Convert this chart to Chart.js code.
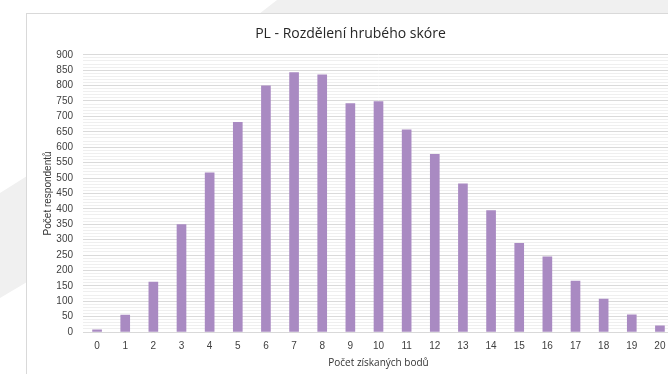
<!DOCTYPE html>
<html>
<head>
<meta charset="utf-8">
<script src="https://cdn.jsdelivr.net/npm/chart.js@4/dist/chart.umd.min.js"></script>
<style>
  html, body { margin: 0; padding: 0; background: #fff; overflow: hidden; width: 668px; height: 374px; }
  .shape { position: absolute; background: #f0f0f0; }
  #top { left: 0; top: 0; width: 668px; height: 14px; clip-path: polygon(277px 0, 668px 0, 668px 14px, 259px 14px); }
  #left { left: 0; top: 170px; width: 27px; height: 135px; clip-path: polygon(0 23px, 27px 6px, 27px 112px, 0 128px); }
  #panel { position: absolute; left: 26px; top: 13px; width: 700px; height: 400px; background: #fff; border: 1px solid #d9d9d9; }
  #chart { position: absolute; left: 0; top: 0; }
</style>
</head>
<body>
<div class="shape" id="top"></div>
<div class="shape" id="left"></div>
<div id="panel"><canvas id="chart" width="660" height="360"></canvas></div>
<script>
const scores = ["0", "1", "2", "3", "4", "5", "6", "7", "8", "9", "10",
  "11", "12", "13", "14", "15", "16", "17", "18", "19", "20"];
const respondents = [7, 55, 162, 349, 517, 681, 799, 842, 835, 742, 748,
  656, 577, 481, 394, 288, 244, 165, 107, 56, 20];
const yMax = 900;
const yLabelStep = 50;

const tickFont = { family: "'Liberation Sans', Arial, sans-serif", size: 10 };

let config = {
  type: "bar",
  data: {
    labels: scores,
    datasets: [
      {
        label: "Počet respondentů",
        data: respondents,
        backgroundColor: "#a98ac2",
        barThickness: 9,
      },
    ],
  },
  options: {
    responsive: false,
    animation: false,
    devicePixelRatio: 1,
    layout: { padding: { left: 0, right: 13, top: 0, bottom: 0 } },
    plugins: {
      legend: { display: false },
      tooltip: { enabled: false },
      title: {
        display: true,
        text: "PL - Rozdělení hrubého skóre",
        color: "#262626",
        font: { family: "'Open Sans', sans-serif", size: 14, weight: "normal" },
        padding: { top: 12, bottom: 12 },
      },
    },
    scales: {
      x: {
        grid: { display: false, drawTicks: false },
        border: { display: true, color: "#d9d9d9" },
        ticks: { color: "#404040", font: tickFont, padding: 8, maxRotation: 0 },
        title: {
          display: true,
          text: "Počet získaných bodů",
          color: "#333333",
          font: { family: "'Open Sans', sans-serif", size: 10 },
          padding: { top: 0, bottom: 5 },
        },
        afterFit: (scale) => { scale.height = 42; },
      },
      y: {
        min: 0,
        max: yMax,
        grid: {
          drawTicks: false,
          color: (ctx) => (ctx.tick && ctx.tick.value % yLabelStep === 0 ? "#dadada" : "#efefef"),
        },
        border: { display: false },
        ticks: {
          stepSize: 10,
          autoSkip: false,
          color: "#404040",
          font: tickFont,
          padding: 10,
          callback: (v) => (v % yLabelStep === 0 ? v : ""),
        },
        title: {
          display: true,
          text: "Počet respondentů",
          color: "#333333",
          font: { family: "'Liberation Sans', Arial, sans-serif", size: 10 },
          padding: { top: 15, bottom: 0 },
        },
        afterFit: (scale) => { scale.width = 56; },
      },
    },
  },
};

const canvas = document.getElementById("chart").getContext("2d");
const chart = new Chart(canvas, config);
</script>
</body>
</html>
